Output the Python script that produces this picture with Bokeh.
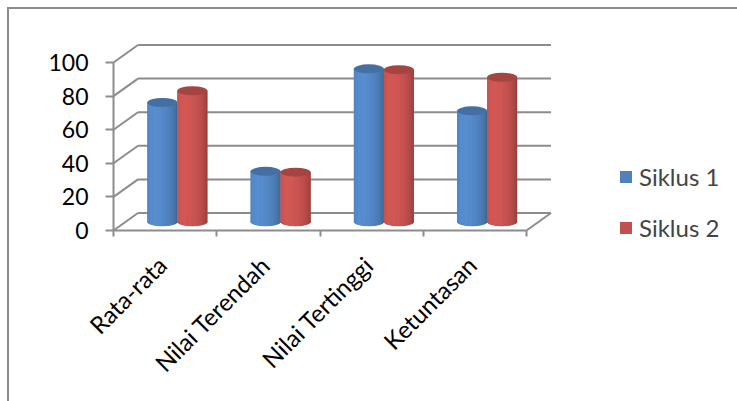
import math
from bokeh.plotting import figure
from bokeh.models import (Range1d, FixedTicker, ColumnDataSource, Legend, LegendItem,
                          InlineStyleSheet)
from bokeh.embed import file_html
from bokeh.resources import INLINE

# ---------------- data ----------------
categories = ["Rata-rata", "Nilai Terendah", "Nilai Tertinggi", "Ketuntasan"]
siklus_1 = [71, 30, 91, 66]
siklus_2 = [78, 29.5, 90.5, 86]
series_names = ["Siklus 1", "Siklus 2"]
y_ticks = [0, 20, 40, 60, 80, 100]

# ---------------- style / geometry ----------------
W, H = 737, 401
AXIS_X = 113           # pixel column of the value axis (category 0)
AXIS_Y = 230           # pixel row of value 0 (front floor edge)
PX_X = 103.25          # pixels per category
PX_Y = 1.68            # pixels per value unit
depth_dx = 24.5 / PX_X
depth_dy = 17.5 / PX_Y
bar_w = 30 / PX_X
cap_h = 9 / PX_Y
base = depth_dy / 2
label_shift = -0.03
base_colors = [(79, 129, 189), (192, 80, 77)]
grid_color = "#8c8c8c"
FONT = "Lato"
N_STRIPS = 24


def hexc(rgb, f=1.0):
    r, g, b = [max(0, min(255, int(round(c * f)))) for c in rgb]
    return "#%02x%02x%02x" % (r, g, b)


n_cat = len(categories)
p = figure(width=W, height=H, output_backend="svg", toolbar_location=None,
           x_range=Range1d(-AXIS_X / PX_X, (W - AXIS_X) / PX_X),
           y_range=Range1d(-(H - AXIS_Y) / PX_Y, AXIS_Y / PX_Y),
           min_border_left=0, min_border_right=0,
           min_border_top=0, min_border_bottom=0)
p.xgrid.visible = False
p.ygrid.visible = False
p.outline_line_color = None
p.background_fill_color = "white"
p.border_fill_color = "white"
p.stylesheets = [InlineStyleSheet(css="""
:host { position: relative; }
:host::after { content: ""; position: absolute; left: 7px; top: 7px; right: 0px; bottom: 0px;
  border-top: 2px solid #8c8c8c; border-left: 2px solid #8c8c8c; pointer-events: none; }
""")]

# back wall gridlines, side wall diagonals, floor
gx0 = [depth_dx] * len(y_ticks)
gx1 = [n_cat + depth_dx] * len(y_ticks)
gy = [t + depth_dy for t in y_ticks]
p.segment(x0=gx0, y0=gy, x1=gx1, y1=gy, line_color=grid_color, line_width=2)
p.segment(x0=[0] * len(y_ticks), y0=y_ticks, x1=gx0, y1=gy, line_color=grid_color, line_width=2)
p.segment(x0=[n_cat], y0=[0], x1=[n_cat + depth_dx], y1=[depth_dy],
          line_color=grid_color, line_width=2)

# cylinders
legend_items = []
for j, vals in enumerate([siklus_1, siklus_2]):
    rgb = base_colors[j]
    cxs = [i + 0.5 + depth_dx / 2 + (j - 0.5) * bar_w for i in range(n_cat)]
    tops = [base + v for v in vals]
    r = p.vbar(x=cxs, top=tops, bottom=base, width=bar_w,
               fill_color=hexc(rgb), line_color=None)
    legend_items.append(LegendItem(label=series_names[j], renderers=[r]))
    p.ellipse(x=cxs, y=[base] * n_cat, width=bar_w, height=cap_h,
              fill_color=hexc(rgb, 0.95), line_color=None)
    L, R, B, T, C = [], [], [], [], []
    for cx, top in zip(cxs, tops):
        for k in range(N_STRIPS):
            l = cx - bar_w / 2 + k * bar_w / N_STRIPS
            rr = l + bar_w / N_STRIPS * (1.2 if k < N_STRIPS - 1 else 1.0)
            u = ((k + 0.5) / N_STRIPS) * 2 - 1
            th = math.asin(u)
            f = 0.85 + 0.25 * math.cos(th + 0.5)
            L.append(l)
            R.append(rr)
            B.append(base - cap_h / 2 * math.sqrt(max(0.0, 1 - u * u)) * 0.9)
            T.append(top)
            C.append(hexc(rgb, f))
    src = ColumnDataSource(dict(left=L, right=R, bottom=B, top=T, color=C))
    p.quad(left="left", right="right", bottom="bottom", top="top", fill_color="color",
           line_color=None, source=src)
    p.ellipse(x=cxs, y=tops, width=bar_w, height=cap_h, fill_color=hexc(rgb, 0.86),
              line_color=None)

# axes
ya = p.yaxis[0]
ya.fixed_location = 0
ya.ticker = FixedTicker(ticks=y_ticks, minor_ticks=[])
ya.bounds = (0, 100)
ya.axis_line_color = grid_color
ya.axis_line_width = 2
ya.major_tick_line_color = grid_color
ya.major_tick_line_width = 2
ya.major_tick_out = 8
ya.major_tick_in = 0
ya.major_label_standoff = 17
ya.major_label_text_font = FONT
ya.major_label_text_font_size = "23px"
ya.major_label_text_color = "black"

xa = p.xaxis[0]
xa.fixed_location = 0
centers = [i + 0.5 + label_shift for i in range(n_cat)]
xa.ticker = FixedTicker(ticks=centers, minor_ticks=list(range(n_cat + 1)))
xa.major_label_overrides = {c: name for c, name in zip(centers, categories)}
xa.bounds = (0, n_cat)
xa.axis_line_color = grid_color
xa.axis_line_width = 2
xa.major_tick_out = 0
xa.major_tick_in = 0
xa.minor_tick_line_color = grid_color
xa.minor_tick_line_width = 2
xa.minor_tick_out = 6
xa.minor_tick_in = 0
xa.major_label_orientation = math.pi / 4
xa.major_label_standoff = 24
xa.major_label_text_font = FONT
xa.major_label_text_font_size = "24px"
xa.major_label_text_color = "black"

legend = Legend(items=legend_items, location=(620 - 2, H - 241.5), orientation="vertical",
                glyph_width=15, glyph_height=15, label_text_font=FONT,
                label_text_font_size="24px", label_standoff=6, spacing=22, label_height=26,
                padding=0, margin=0, border_line_color=None, background_fill_alpha=0)
p.add_layout(legend)

open("out.html", "w").write(file_html(p, INLINE))
